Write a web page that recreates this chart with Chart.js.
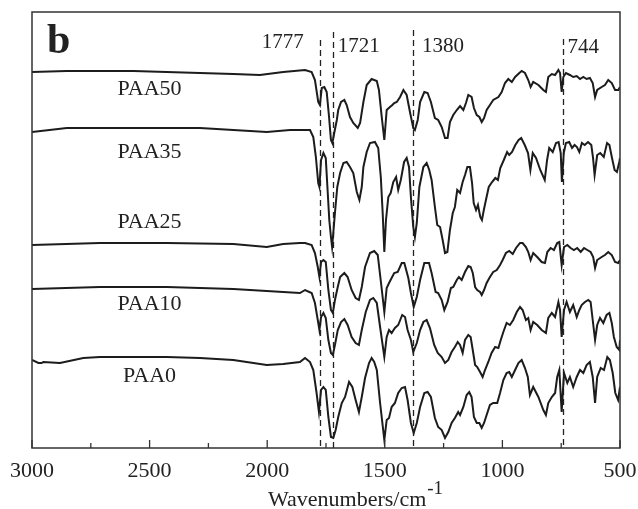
<!DOCTYPE html>
<html>
<head>
<meta charset="utf-8">
<title>FTIR spectra b</title>
<script src="https://cdn.jsdelivr.net/npm/chart.js@4/dist/chart.umd.min.js"></script>
<style>
    html, body { margin: 0; padding: 0; background: #fff; }
    #wrap { width: 638px; height: 509px; }
</style>
</head>
<body>
<div id="wrap"><canvas id="ftirChart" width="638" height="509"></canvas></div>
<script>
// wavenumber (cm-1), stacked intensity (a.u., offsets included)
var PAA50 = [[3000,376],[2852,377],[2569,377],[2286,375],[2144,374],[2031,373],[1932,376],[1839,378],[1811,376],[1797,368],[1783,346],[1776,343],[1768,360],[1757,361],[1747,356],[1737,331],[1729,308],[1723,305],[1715,315],[1704,328],[1698,338],[1686,346],[1672,348],[1662,343],[1648,331],[1634,325],[1615,320],[1605,325],[1591,346],[1577,363],[1556,369],[1534,367],[1525,358],[1513,331],[1502,308],[1492,338],[1478,341],[1468,343],[1460,345],[1449,346],[1435,351],[1421,358],[1407,353],[1393,336],[1379,320],[1372,318],[1360,328],[1350,346],[1332,356],[1318,355],[1304,346],[1287,330],[1273,328],[1258,321],[1244,310],[1233,310],[1223,326],[1209,333],[1194,338],[1180,342],[1166,338],[1155,345],[1145,353],[1131,351],[1121,340],[1109,333],[1098,331],[1088,326],[1078,330],[1067,338],[1053,343],[1039,348],[1017,351],[1003,356],[989,365],[975,369],[960,366],[946,371],[928,375],[918,377],[904,375],[890,368],[880,361],[869,366],[847,363],[826,358],[815,356],[805,371],[790,374],[776,373],[762,378],[755,375],[748,356],[741,371],[730,375],[713,373],[699,371],[684,372],[670,369],[656,371],[642,369],[628,370],[616,365],[606,351],[597,358],[578,361],[564,363],[550,368],[535,365],[521,358],[507,358],[500,361]];
var PAA35 = [[3000,316],[2852,320],[2569,320],[2286,320],[2144,318],[2002,316],[1903,318],[1818,318],[1804,311],[1793,291],[1783,265],[1778,261],[1771,288],[1761,295],[1751,290],[1744,261],[1736,228],[1729,211],[1724,201],[1719,215],[1712,235],[1702,261],[1690,275],[1676,285],[1662,286],[1648,281],[1634,275],[1619,256],[1608,248],[1598,261],[1591,281],[1577,296],[1563,305],[1542,306],[1528,300],[1517,271],[1509,235],[1502,196],[1495,228],[1485,251],[1475,255],[1464,266],[1452,271],[1443,258],[1432,268],[1418,286],[1407,290],[1397,281],[1389,251],[1379,221],[1372,211],[1364,225],[1353,261],[1336,281],[1322,285],[1311,278],[1301,268],[1287,241],[1277,223],[1265,221],[1254,208],[1244,195],[1234,196],[1223,218],[1211,235],[1202,241],[1192,258],[1180,255],[1169,266],[1159,273],[1149,281],[1138,281],[1129,265],[1122,245],[1112,238],[1104,243],[1094,231],[1087,228],[1079,238],[1070,248],[1058,261],[1044,266],[1030,270],[1019,268],[1009,280],[994,288],[980,296],[971,293],[959,296],[945,303],[931,308],[920,310],[905,303],[891,295],[881,278],[871,295],[857,290],[839,278],[820,268],[810,288],[801,300],[786,296],[772,305],[761,306],[752,295],[747,266],[739,295],[730,305],[716,306],[704,300],[693,303],[683,301],[673,296],[662,305],[650,303],[636,306],[622,303],[615,291],[608,273],[597,293],[584,295],[569,291],[555,305],[545,303],[534,290],[523,278],[513,276],[503,286],[500,290]];
var PAA25 = [[3000,203],[2711,205],[2427,205],[2144,204],[2002,201],[1932,204],[1861,205],[1839,205],[1811,203],[1797,195],[1785,181],[1778,171],[1771,186],[1761,188],[1751,186],[1740,158],[1729,138],[1721,135],[1712,148],[1700,161],[1690,171],[1672,175],[1658,171],[1641,158],[1624,150],[1610,148],[1598,161],[1584,181],[1563,195],[1545,197],[1530,193],[1516,165],[1502,136],[1492,160],[1482,165],[1471,170],[1460,175],[1445,176],[1428,185],[1417,185],[1400,170],[1389,155],[1377,141],[1364,151],[1350,168],[1332,185],[1312,185],[1301,175],[1284,156],[1273,155],[1258,148],[1247,138],[1233,146],[1219,160],[1209,161],[1194,168],[1185,171],[1173,168],[1159,176],[1145,182],[1135,181],[1126,175],[1116,161],[1107,158],[1095,156],[1088,153],[1078,158],[1067,165],[1053,171],[1039,176],[1024,178],[1010,183],[999,188],[985,195],[971,197],[956,194],[942,200],[925,205],[914,205],[900,201],[890,196],[880,188],[869,195],[852,191],[833,186],[819,185],[809,196],[795,200],[781,198],[767,205],[758,206],[748,183],[738,201],[724,203],[710,200],[696,198],[682,200],[667,196],[653,200],[639,198],[625,196],[614,191],[606,180],[597,188],[578,191],[564,193],[550,196],[535,193],[521,186],[507,185],[500,188]];
var PAA10 = [[3000,159],[2711,161],[2427,161],[2144,159],[2002,157],[1932,156],[1861,155],[1839,158],[1811,155],[1797,145],[1785,128],[1778,118],[1771,131],[1761,135],[1751,130],[1740,108],[1729,95],[1721,93],[1712,103],[1700,118],[1686,126],[1672,129],[1658,123],[1641,111],[1624,105],[1610,103],[1598,118],[1581,136],[1563,148],[1549,150],[1534,145],[1520,121],[1502,91],[1492,111],[1482,118],[1471,115],[1457,120],[1443,123],[1426,133],[1414,131],[1403,118],[1389,108],[1379,96],[1364,105],[1350,118],[1336,126],[1322,128],[1308,120],[1290,103],[1275,95],[1258,91],[1244,85],[1230,88],[1216,96],[1202,101],[1190,106],[1180,103],[1169,95],[1159,108],[1145,113],[1135,111],[1124,95],[1116,83],[1107,81],[1095,76],[1084,71],[1074,78],[1060,86],[1046,95],[1031,101],[1017,100],[1007,108],[996,116],[982,125],[968,123],[954,128],[939,136],[925,141],[914,138],[900,128],[890,130],[880,118],[869,126],[852,123],[833,118],[815,115],[805,130],[790,135],[776,131],[762,146],[755,138],[748,111],[738,138],[727,146],[713,136],[699,143],[684,131],[673,138],[663,143],[649,146],[635,148],[625,146],[616,128],[606,108],[597,123],[585,130],[571,125],[557,133],[545,135],[535,125],[526,111],[514,101],[503,98],[500,108]];
var PAA0 = [[3000,88],[2973,85],[2959,85],[2952,86],[2881,85],[2782,90],[2711,91],[2569,91],[2427,91],[2286,90],[2144,88],[2002,83],[1932,84],[1861,86],[1839,90],[1818,86],[1804,78],[1790,55],[1780,36],[1771,58],[1761,61],[1751,58],[1740,31],[1729,11],[1719,10],[1709,18],[1698,31],[1683,45],[1669,51],[1652,66],[1638,61],[1624,48],[1610,36],[1598,51],[1584,70],[1567,85],[1556,90],[1545,86],[1534,78],[1520,45],[1502,8],[1492,28],[1482,30],[1471,41],[1457,45],[1443,55],[1428,60],[1414,61],[1403,48],[1389,25],[1377,15],[1364,25],[1350,41],[1332,55],[1318,56],[1304,51],[1287,30],[1273,21],[1258,18],[1244,10],[1230,16],[1216,25],[1202,30],[1188,36],[1180,33],[1166,41],[1152,53],[1141,56],[1131,51],[1121,31],[1109,25],[1098,25],[1088,20],[1078,25],[1067,33],[1053,43],[1039,45],[1022,45],[1010,55],[996,68],[982,75],[971,76],[960,71],[946,78],[932,85],[918,88],[904,80],[892,71],[883,53],[869,61],[847,51],[826,38],[815,33],[805,45],[790,51],[776,55],[767,71],[758,78],[748,36],[738,75],[724,65],[713,71],[699,61],[684,71],[670,78],[656,75],[642,83],[628,86],[616,71],[606,45],[597,71],[582,80],[568,78],[554,91],[543,88],[531,75],[520,55],[508,48],[500,61]];

var seriesNames = ['PAA50', 'PAA35', 'PAA25', 'PAA10', 'PAA0'];
var seriesData = [PAA50, PAA35, PAA25, PAA10, PAA0];
var peakWavenumbers = [1777, 1721, 1380, 744];
var minorTicks = [2750, 2250, 1750, 1250, 750];

(function () {
    var SERIF = "'Liberation Serif', 'Times New Roman', serif";
    var INK = '#1c1c1c';

    // where the name of each trace sits (wavenumber, intensity of baseline)
    var nameAnchor = { wn: 2500, y: [353, 290, 220, 138, 66] };
    // dashed marker tops (intensity units) and label placement
    var peakLineTop = [408, 416, 418, 409];
    var peakLabelDx = [-58, 5, 9, 5];
    var peakLabelBase = [36, 40, 40, 41];

    function toXY(arr) {
        return arr.map(function (p) { return { x: p[0], y: p[1] }; });
    }

    var decor = {
        id: 'ftirDecor',
        beforeDatasetsDraw: function (chart) {
            var ctx = chart.ctx, xs = chart.scales.x, ys = chart.scales.y;
            var bottom = chart.chartArea.bottom;
            ctx.save();
            ctx.strokeStyle = '#222';
            ctx.lineWidth = 1.3;
            ctx.setLineDash([6, 4]);
            peakWavenumbers.forEach(function (wn, i) {
                var px = Math.round(xs.getPixelForValue(wn)) + 0.5;
                ctx.beginPath();
                ctx.moveTo(px, ys.getPixelForValue(peakLineTop[i]));
                ctx.lineTo(px, bottom);
                ctx.stroke();
            });
            ctx.restore();
        },
        afterDraw: function (chart) {
            var ctx = chart.ctx, xs = chart.scales.x, ys = chart.scales.y;
            var a = chart.chartArea;
            ctx.save();
            // frame
            ctx.strokeStyle = '#333';
            ctx.lineWidth = 1.5;
            ctx.strokeRect(a.left, a.top, a.right - a.left, a.bottom - a.top);
            // inward ticks
            ctx.lineWidth = 1.3;
            xs.ticks.forEach(function (t) {
                var px = xs.getPixelForValue(t.value);
                ctx.beginPath();
                ctx.moveTo(px, a.bottom);
                ctx.lineTo(px, a.bottom - 8);
                ctx.stroke();
            });
            minorTicks.forEach(function (v) {
                var px = xs.getPixelForValue(v);
                ctx.beginPath();
                ctx.moveTo(px, a.bottom);
                ctx.lineTo(px, a.bottom - 5);
                ctx.stroke();
            });

            ctx.fillStyle = '#222';
            ctx.textBaseline = 'alphabetic';
            // panel letter
            ctx.font = 'bold 42px ' + SERIF;
            ctx.textAlign = 'left';
            ctx.fillText('b', a.left + 15, a.top + 41);

            // peak labels
            ctx.font = '21px ' + SERIF;
            peakWavenumbers.forEach(function (wn, i) {
                var px = xs.getPixelForValue(wn);
                ctx.fillText(String(wn), px + peakLabelDx[i], a.top + peakLabelBase[i]);
            });

            // trace names
            ctx.font = '22px ' + SERIF;
            ctx.textAlign = 'center';
            seriesNames.forEach(function (name, i) {
                ctx.fillText(name, xs.getPixelForValue(nameAnchor.wn), ys.getPixelForValue(nameAnchor.y[i]));
            });

            // axis title with superscript
            ctx.textAlign = 'left';
            ctx.font = '22px ' + SERIF;
            var main = 'Wavenumbers/cm';
            var tx = 268;
            ctx.fillText(main, tx, 506);
            var w = ctx.measureText(main).width;
            ctx.font = '19px ' + SERIF;
            ctx.fillText('-1', tx + w + 1, 494);
            ctx.restore();
        }
    };

    function boot() {
        var el = document.getElementById('ftirChart');
        if (!el || typeof Chart === 'undefined') return;
        new Chart(el, {
            type: 'line',
            data: {
                datasets: seriesData.map(function (d, i) {
                    return {
                        label: seriesNames[i],
                        data: toXY(d),
                        borderColor: INK,
                        borderWidth: 2,
                        pointRadius: 0,
                        tension: 0,
                        fill: false
                    };
                })
            },
            options: {
                responsive: false,
                animation: false,
                devicePixelRatio: 1,
                parsing: false,
                layout: { padding: { left: 32, right: 18, top: 12, bottom: 0 } },
                plugins: { legend: { display: false }, tooltip: { enabled: false } },
                scales: {
                    x: {
                        type: 'linear',
                        min: 500,
                        max: 3000,
                        reverse: true,
                        grid: { display: false },
                        border: { display: false },
                        ticks: {
                            stepSize: 500,
                            padding: 2,
                            color: '#222',
                            maxRotation: 0,
                            font: { family: SERIF, size: 22 },
                            callback: function (v) { return String(v); }
                        },
                        afterFit: function (s) {
                            s.height = 61;
                            s.paddingLeft = 0;
                            s.paddingRight = 0;
                        }
                    },
                    y: {
                        type: 'linear',
                        min: 0,
                        max: 436,
                        display: false
                    }
                }
            },
            plugins: [decor]
        });
    }

    if (document.readyState === 'loading') {
        document.addEventListener('DOMContentLoaded', boot);
    } else {
        boot();
    }
})();
</script>
</body>
</html>
